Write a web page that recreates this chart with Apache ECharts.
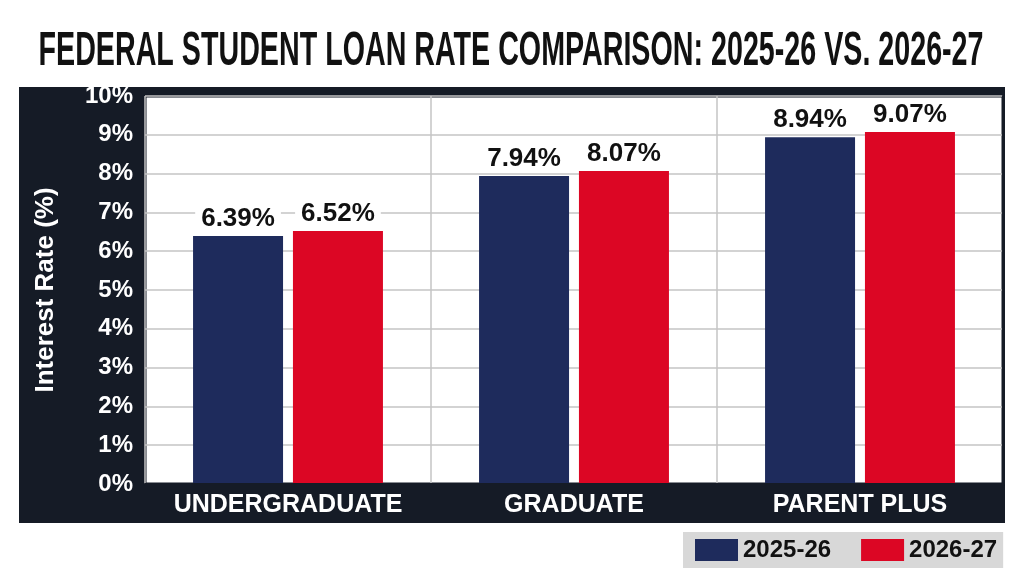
<!DOCTYPE html>
<html>
<head>
<meta charset="utf-8">
<script src="https://cdn.jsdelivr.net/npm/echarts@6/dist/echarts.min.js"></script>
<style>
  html, body { margin: 0; padding: 0; background: #fff; }
  #chart { width: 1024px; height: 572px; }
</style>
</head>
<body>
<div id="chart"></div>
<script>
var categories = ['UNDERGRADUATE', 'GRADUATE', 'PARENT PLUS'];
var rates2025 = [6.39, 7.94, 8.94];
var rates2026 = [6.52, 8.07, 9.07];
var seriesNames = ['2025-26', '2026-27'];
var titleText = 'FEDERAL STUDENT LOAN RATE COMPARISON: 2025-26 VS. 2026-27';

var chart = echarts.init(document.getElementById('chart'));

var navy = '#1e2b5c';
var red = '#dc0624';
var dark = '#151b26';
var sans = '"Liberation Sans", Arial, sans-serif';

// the title face is very condensed, so squeeze a bold sans to the same width
var titleFont = 'bold 48px ' + sans;
var ctx = document.createElement('canvas').getContext('2d');
ctx.font = titleFont;
var titleScaleX = 945 / ctx.measureText(titleText).width;

function barLabel() {
	return {
		show: true,
		position: 'top',
		distance: 4,
		formatter: function (p) { return p.value.toFixed(2) + '%'; },
		color: '#111',
		fontFamily: sans,
		fontWeight: 'bold',
		fontSize: 26,
		backgroundColor: '#fff',
		padding: [0, 6, 0, 6]
	};
}

var option = {
	backgroundColor: '#fff',
	animation: false,
	graphic: [
		{
			type: 'rect',
			z: -10,
			shape: { x: 19, y: 87, width: 986, height: 436 },
			style: { fill: dark }
		},
		{
			type: 'text',
			x: 511,
			y: 52,
			scaleX: titleScaleX,
			style: {
				text: titleText,
				fill: '#111',
				font: titleFont,
				align: 'center',
				verticalAlign: 'middle'
			}
		}
	],
	legend: {
		data: seriesNames,
		left: 683,
		top: 532,
		width: 322,
		backgroundColor: '#d8d8d8',
		padding: [6, 6, 6, 12],
		itemWidth: 43,
		itemHeight: 22,
		itemGap: 30,
		icon: 'rect',
		textStyle: {
			color: '#111',
			fontFamily: sans,
			fontWeight: 'bold',
			fontSize: 24
		}
	},
	grid: {
		left: 145,
		right: 21,
		top: 96,
		bottom: 88,
		show: true,
		backgroundColor: '#fff',
		borderColor: dark,
		borderWidth: 3
	},
	xAxis: [
		{
			type: 'category',
			data: categories,
			axisLine: { show: false },
			axisTick: { show: false },
			splitLine: { show: true, lineStyle: { color: '#c4c4c4', width: 1.5 } },
			axisLabel: {
				interval: 0,
				color: '#fff',
				fontFamily: sans,
				fontWeight: 'bold',
				fontSize: 25,
				margin: 9
			}
		},
		{
			// dark frame along the top of the plot
			type: 'category',
			data: categories,
			position: 'top',
			z: 10,
			axisLine: { show: true, lineStyle: { color: dark, width: 3 } },
			axisTick: { show: false },
			axisLabel: { show: false },
			splitLine: { show: false }
		}
	],
	yAxis: [
		{
			type: 'value',
			min: 0,
			max: 10,
			interval: 1,
			name: 'Interest Rate (%)',
			nameLocation: 'middle',
			nameGap: 86,
			nameTextStyle: {
				color: '#fff',
				fontFamily: sans,
				fontWeight: 'bold',
				fontSize: 26
			},
			axisLine: { show: false },
			axisTick: { show: false },
			splitLine: { lineStyle: { color: '#c4c4c4', width: 1.5 } },
			axisLabel: {
				formatter: '{value}%',
				color: '#fff',
				fontFamily: sans,
				fontWeight: 'bold',
				fontSize: 24,
				margin: 12
			}
		},
		{
			// dark frame along the right of the plot
			type: 'value',
			min: 0,
			max: 10,
			position: 'right',
			z: 10,
			axisLine: { show: true, lineStyle: { color: dark, width: 3 } },
			axisTick: { show: false },
			axisLabel: { show: false },
			splitLine: { show: false }
		}
	],
	series: [
		{
			name: seriesNames[0],
			type: 'bar',
			data: rates2025,
			barWidth: 90,
			barGap: '11%',
			itemStyle: { color: navy },
			label: barLabel()
		},
		{
			name: seriesNames[1],
			type: 'bar',
			data: rates2026,
			barWidth: 90,
			itemStyle: { color: red },
			label: barLabel()
		}
	]
};

chart.setOption(option);
</script>
</body>
</html>
